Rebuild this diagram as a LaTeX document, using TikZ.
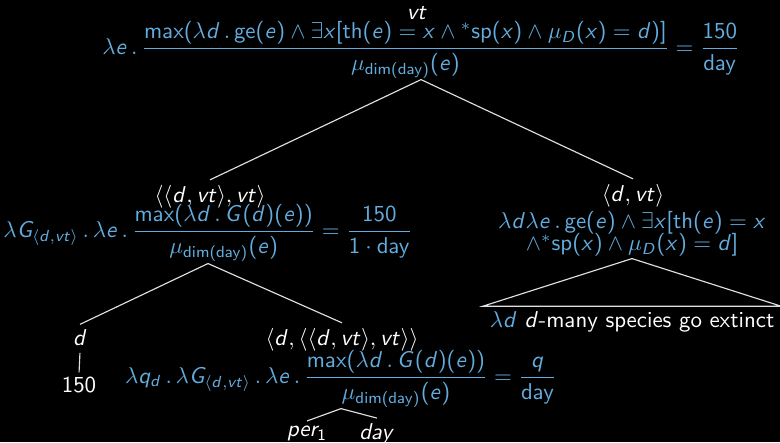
\documentclass[tikz,border=0pt]{standalone}
\usepackage{amsmath}
\renewcommand{\familydefault}{\sfdefault}
\DeclareSymbolFont{operators}{OT1}{cmss}{m}{n}
\DeclareSymbolFont{sfslanted}{OT1}{cmss}{m}{sl}
\makeatletter
\def\mysfletters#1{\ifx#1\relax\else\DeclareMathSymbol{#1}{\mathalpha}{sfslanted}{`#1}\expandafter\mysfletters\fi}
\mysfletters abcdefghijklmnopqrstuvwxyzABCDEFGHIJKLMNOPQRSTUVWXYZ\relax
\makeatother
\definecolor{semblue}{RGB}{98,172,222}
\newcommand{\mydimday}{\mu_{\mathrm{dim}(\mathrm{day})}(e)}
\begin{document}
\begin{tikzpicture}[x=0.437pt,y=-0.437pt,
  every node/.style={inner sep=0pt,outer sep=0pt},
  typ/.style={text=white,inner ysep=2.5pt},
  sem/.style={text=semblue,inner ysep=1pt},
  edge/.style={draw=white!88!black,line width=0.5pt}]
\fill[black] (0,0) rectangle (780,442);
\useasboundingbox (0,0) rectangle (780,442);
% root
\node[typ] (t0) at (417,13) {$vt$};
\node[sem,inner ysep=0.6pt] (f0) at (421,50) {$\displaystyle \lambda e\,.\,\frac{\mathrm{max}(\lambda d\,.\,\mathrm{ge}(e)\wedge\exists x[\mathrm{th}(e)=x\wedge{}^{*}\mathrm{sp}(x)\wedge\mu_D(x)=d)]}{\mydimday}=\frac{150}{\mathrm{day}}$};
% left child
\node[typ] (t1) at (210,197) {$\langle\langle d,vt\rangle,vt\rangle$};
\node[sem] (f1) at (208,233) {$\displaystyle \lambda G_{\langle d,vt\rangle}\,.\,\lambda e\,.\,\frac{\mathrm{max}(\lambda d\,.\,G(d)(e))}{\mydimday}=\frac{150}{1\cdot\mathrm{day}}$};
% right child
\node[typ] (t2) at (633,196) {$\langle d,vt\rangle$};
\node[sem,align=center] (f2) at (632,234) {$\lambda d\lambda e\,.\,\mathrm{ge}(e)\wedge\exists x[\mathrm{th}(e)=x$\\[-2.5pt]$\wedge{}^{*}\mathrm{sp}(x)\wedge\mu_D(x)=d]$};
\node[text=white,inner xsep=3pt,inner ysep=2.4pt] (leaf) at (632,322) {{\color{semblue}$\lambda d$}\ $d$-many species go extinct};
% lower left
\node[typ] (t3) at (80,338) {$d$};
\node[text=white,inner ysep=1.5pt] (l150) at (79,385) {150};
\node[typ] (t4) at (342,340) {$\langle d,\langle\langle d,vt\rangle,vt\rangle\rangle$};
\node[sem,inner ysep=0.6pt] (f4) at (341,379) {$\displaystyle \lambda q_d\,.\,\lambda G_{\langle d,vt\rangle}\,.\,\lambda e\,.\,\frac{\mathrm{max}(\lambda d\,.\,G(d)(e))}{\mydimday}=\frac{q}{\mathrm{day}}$};
\node[typ] (per) at (307,434) {$per_1$};
\node[typ] (day) at (377,434) {$day$};
% connectors
\draw[edge] (f0.south) -- (t1.north);
\draw[edge] (f0.south) -- (t2.north);
\draw[edge] (f1.south) -- (t3.north);
\draw[edge] (f1.south) -- (t4.north);
\draw[edge] (f2.south) -- (leaf.north west) -- (leaf.north east) -- cycle;
\draw[edge,shorten <=0.5pt,shorten >=0.5pt] (t3.south) -- (l150.north);
\draw[edge] (f4.south) -- (per.north);
\draw[edge] (f4.south) -- (day.north);
\end{tikzpicture}
\end{document}
